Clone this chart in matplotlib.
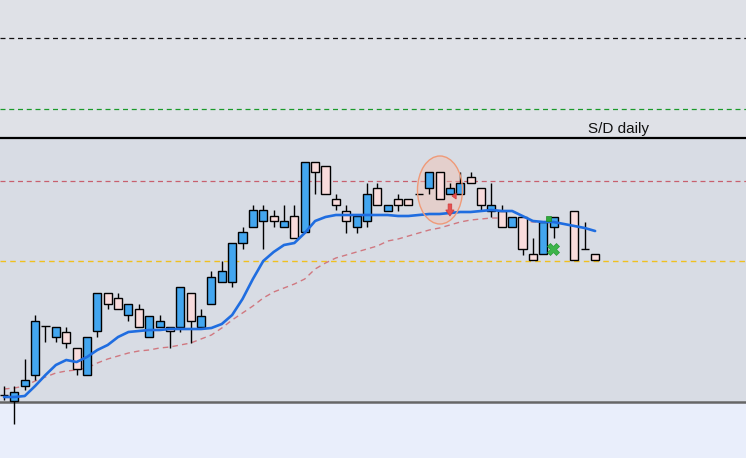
import numpy as np
import matplotlib
matplotlib.use("Agg")
import matplotlib.pyplot as plt
from matplotlib.patches import Ellipse, Polygon

# ---- data (prices) ----
opens = [1.1007, 1.1001, 1.1016, 1.1027, 1.1076, 1.1065, 1.1070, 1.1054, 1.1027, 1.1071,
         1.1109, 1.1104, 1.1087, 1.1093, 1.1065, 1.1075, 1.1075, 1.1075, 1.1109, 1.1075,
         1.1098, 1.1120, 1.1120, 1.1159, 1.1175, 1.1181, 1.1186, 1.1175, 1.1186, 1.1170,
         1.1240, 1.1236, 1.1203, 1.1191, 1.1175, 1.1181, 1.1214, 1.1191, 1.1203, 1.1203,
         1.1208, 1.1214, 1.1230, 1.1208, 1.1208, 1.1225, 1.1214, 1.1191, 1.1191, 1.1175,
         1.1185, 1.1148, 1.1148, 1.1175, np.nan, 1.1191, 1.1153, 1.1148]
highs = [1.1016, 1.1016, 1.1043, 1.1087, 1.1076, 1.1075, 1.1075, 1.1054, 1.1065, 1.1109,
         1.1109, 1.1109, 1.1098, 1.1098, 1.1086, 1.1087, 1.1075, 1.1115, 1.1109, 1.1093,
         1.1131, 1.1141, 1.1159, 1.1175, 1.1197, 1.1197, 1.1192, 1.1197, 1.1197, 1.1240,
         1.1240, 1.1236, 1.1208, 1.1197, 1.1186, 1.1219, 1.1219, 1.1197, 1.1208, 1.1203,
         1.1208, 1.1230, 1.1230, 1.1219, 1.1230, 1.1230, 1.1214, 1.1219, 1.1197, 1.1185,
         1.1185, 1.1164, 1.1180, 1.1185, np.nan, 1.1191, 1.1180, 1.1148]
lows = [1.1002, 1.0978, 1.1012, 1.1022, 1.1060, 1.1060, 1.1054, 1.1027, 1.1027, 1.1065,
        1.1093, 1.1093, 1.1081, 1.1075, 1.1065, 1.1075, 1.1054, 1.1070, 1.1059, 1.1075,
        1.1098, 1.1120, 1.1115, 1.1153, 1.1175, 1.1153, 1.1175, 1.1175, 1.1164, 1.1170,
        1.1208, 1.1208, 1.1192, 1.1169, 1.1169, 1.1175, 1.1197, 1.1191, 1.1191, 1.1197,
        1.1208, 1.1208, 1.1203, 1.1208, 1.1208, 1.1219, 1.1191, 1.1185, 1.1175, 1.1175,
        1.1147, 1.1142, 1.1148, 1.1164, np.nan, 1.1142, 1.1153, 1.1142]
closes = [1.1007, 1.1010, 1.1022, 1.1081, 1.1076, 1.1075, 1.1059, 1.1033, 1.1065, 1.1109,
          1.1098, 1.1093, 1.1098, 1.1075, 1.1086, 1.1081, 1.1071, 1.1115, 1.1081, 1.1086,
          1.1125, 1.1131, 1.1159, 1.1170, 1.1192, 1.1192, 1.1181, 1.1181, 1.1164, 1.1240,
          1.1230, 1.1208, 1.1197, 1.1181, 1.1186, 1.1208, 1.1197, 1.1197, 1.1197, 1.1197,
          1.1208, 1.1230, 1.1203, 1.1214, 1.1219, 1.1219, 1.1197, 1.1197, 1.1175, 1.1185,
          1.1153, 1.1142, 1.1180, 1.1185, np.nan, 1.1142, 1.1153, 1.1142]

ma_fast = [1.1005, 1.1005, 1.1006, 1.1016, 1.1027, 1.1037, 1.1042, 1.1040, 1.1045, 1.1052,
           1.1057, 1.1065, 1.1070, 1.1071, 1.1072, 1.1072, 1.1073, 1.1073, 1.1073, 1.1073,
           1.1074, 1.1078, 1.1087, 1.1103, 1.1123, 1.1141, 1.1150, 1.1157, 1.1159, 1.1169,
           1.1181, 1.1185, 1.1187, 1.1187, 1.1187, 1.1187, 1.1187, 1.1187, 1.1186, 1.1186,
           1.1187, 1.1188, 1.1188, 1.1189, 1.1190, 1.1190, 1.1191, 1.1192, 1.1191, 1.1191,
           1.1186, 1.1181, 1.1180, 1.1180, 1.1178, 1.1176, 1.1174, 1.1171]
ma_slow = [1.1013, 1.1014, 1.1016, 1.1021, 1.1025, 1.1029, 1.1031, 1.1032, 1.1034, 1.1039,
           1.1043, 1.1046, 1.1049, 1.1051, 1.1052, 1.1054, 1.1055, 1.1057, 1.1059, 1.1063,
           1.1067, 1.1074, 1.1082, 1.1089, 1.1096, 1.1104, 1.1110, 1.1114, 1.1118, 1.1123,
           1.1133, 1.1139, 1.1144, 1.1147, 1.1150, 1.1153, 1.1156, 1.1161, 1.1163, 1.1166,
           1.1169, 1.1172, 1.1174, 1.1177, 1.1180, 1.1182, 1.1183, 1.1184, 1.1184, 1.1183,
           1.1181, 1.1180, 1.1180, 1.1180, np.nan, np.nan, np.nan, np.nan]

level_top = 1.1364      # black dashed
level_green = 1.1293    # green dashed
level_sd = 1.1264       # black solid (S/D daily)
level_red = 1.1221      # red dashed
level_yellow = 1.1141   # yellow dashed
level_base = 1.1000     # gray solid
sd_label = "S/D daily"

# ---- figure ----
fig = plt.figure(figsize=(7.46, 4.58), dpi=100)
ax = fig.add_axes([0, 0, 1, 1])
ax.set_xlim(-0.386, 71.55)
ax.set_ylim(1.0944, 1.1402)
ax.axis("off")

ax.axhspan(level_sd, 1.1402, color="#dfe1e7", zorder=0)
ax.axhspan(level_base, level_sd, color="#d8dce4", zorder=0)
ax.axhspan(1.0944, level_base, color="#e9eefb", zorder=0)

ax.axhline(level_top, color="#111111", lw=0.9, ls=(0, (4, 3)), zorder=1)
ax.axhline(level_green, color="#1a9a2a", lw=0.9, ls=(0, (4, 3)), zorder=1)
ax.axhline(level_sd, color="black", lw=1.6, zorder=1)
ax.axhline(level_red, color="#c8606e", lw=0.9, ls=(0, (4, 3)), zorder=1)
ax.axhline(level_yellow, color="#f0c020", lw=1.0, ls=(0, (4, 3)), zorder=1)
ax.axhline(level_base, color="#666666", lw=1.8, zorder=1)
ax.text(56.3, level_sd + 0.0005, sd_label, fontsize=11, family="Liberation Sans",
        color="#111111", va="baseline", ha="left", zorder=5)

x = np.arange(len(opens))
o = np.array(opens); h = np.array(highs); l = np.array(lows); c = np.array(closes)

# annotation ellipse fill (behind candles)
ax.add_patch(Ellipse((42.04, 1.1212), 4.34, 0.0068, facecolor="#f4c0b0", alpha=0.45,
                     edgecolor="none", zorder=1.5))

ax.plot(x, ma_slow, color="#d07880", lw=1.0, ls=(0, (4, 3)), zorder=2)

ax.vlines(x, l, h, color="black", lw=1.0, zorder=3)
bottom = np.minimum(o, c)
height = np.abs(c - o)
up = c > o
down = c < o
doji = c == o
ax.bar(x[up], height[up], bottom=bottom[up], width=0.78, color="#43a6ef",
       edgecolor="black", linewidth=1.0, zorder=4)
ax.bar(x[down], height[down], bottom=bottom[down], width=0.78, color="#f9dcdc",
       edgecolor="black", linewidth=1.0, zorder=4)
ax.hlines(o[doji], x[doji] - 0.39, x[doji] + 0.39, color="black", lw=1.0, zorder=4)

ax.plot(x, ma_fast, color="#1f6de0", lw=1.9, zorder=5, solid_capstyle="round")

# annotation ellipse outline and markers
ax.add_patch(Ellipse((42.04, 1.1212), 4.34, 0.0068, facecolor="none",
                     edgecolor="#ef9a78", lw=1.0, zorder=6))
ax.add_patch(Polygon([[42.83, 1.1198], [43.17, 1.1198], [43.17, 1.1192], [43.4, 1.1192],
                      [43.0, 1.1186], [42.6, 1.1192], [42.83, 1.1192]],
                     closed=True, facecolor="#e85050", edgecolor="#d04040", lw=0.6, zorder=7))
ax.add_patch(Polygon([[43.2, 1.1206], [43.6, 1.1209], [43.6, 1.1203]], closed=True,
                     facecolor="#e85050", edgecolor="#d04040", lw=0.6, zorder=7))
ax.add_patch(Polygon([[52.3, 1.1186], [52.3, 1.1181], [52.7, 1.1181], [52.7, 1.1186]],
                     closed=True, facecolor="#2faa3a", edgecolor="#208a2a", lw=0.5, zorder=7))
ax.plot([52.94], [1.1153], marker="X", ms=9, color="#3cb54a", mec="#2a9a38", mew=0.5, zorder=7)

fig.savefig("out.png", dpi=100)
